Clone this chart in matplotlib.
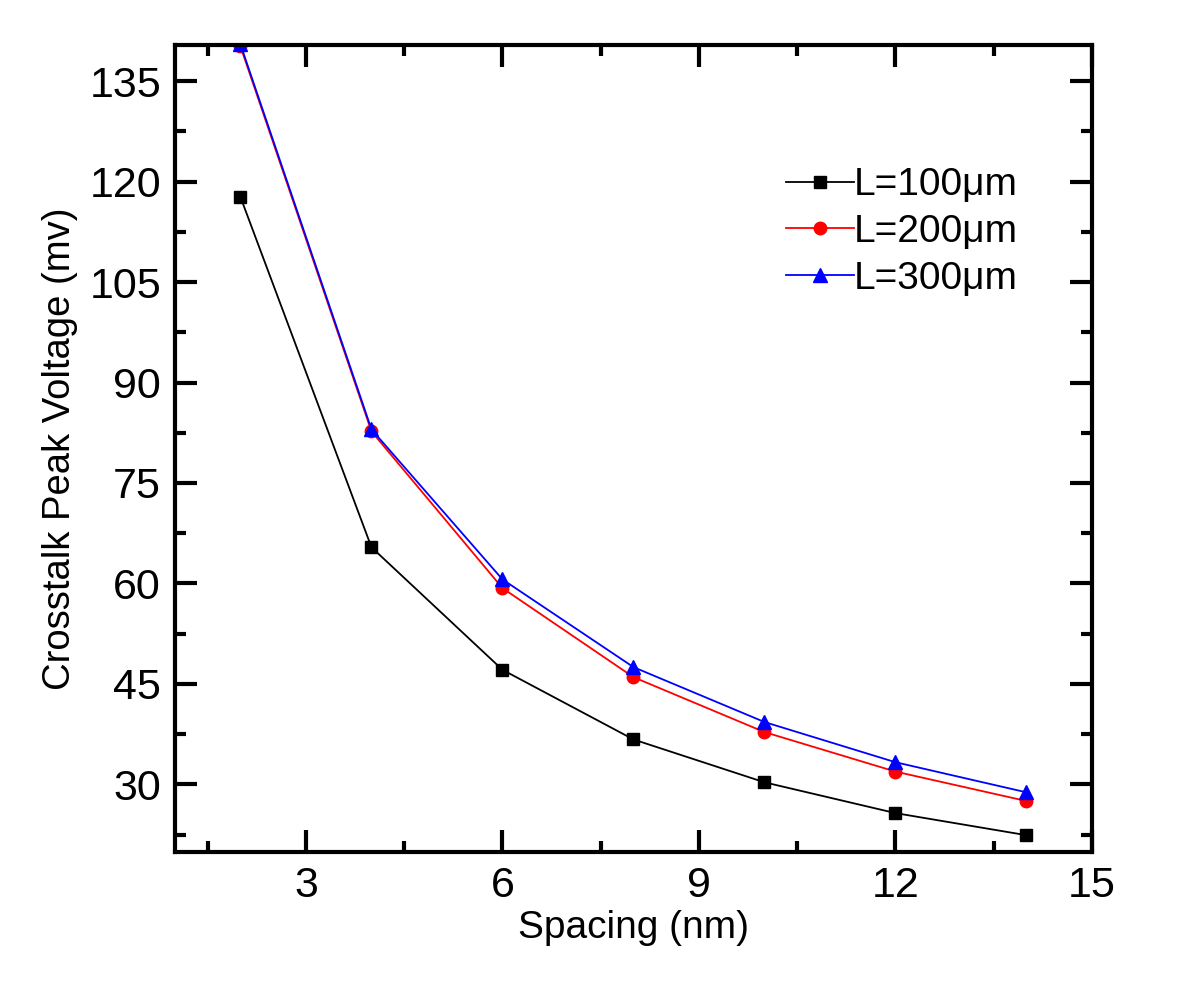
import matplotlib
matplotlib.use("Agg")
import matplotlib.pyplot as plt
from matplotlib.ticker import MultipleLocator

plt.rcParams['font.family'] = ['Liberation Sans', 'DejaVu Sans']

# data
spacing = [2, 4, 6, 8, 10, 12, 14]
v_100 = [117.7, 65.4, 47.1, 36.7, 30.3, 25.7, 22.4]
v_200 = [140.2, 82.7, 59.3, 46.0, 37.8, 31.9, 27.5]
v_300 = [140.5, 83.0, 60.6, 47.5, 39.3, 33.3, 28.8]
labels = ['L=100μm', 'L=200μm', 'L=300μm']

fig = plt.figure(figsize=(12, 10.01), dpi=100)
ax = fig.add_axes([0.1458, 0.1489, 0.7642, 0.8061])

ax.plot(spacing, v_100, color='black', marker='s', markersize=8, lw=1.3, label=labels[0])
ax.plot(spacing, v_200, color='red', marker='o', markersize=9, lw=1.3, label=labels[1])
ax.plot(spacing, v_300, color='blue', marker='^', markersize=10, lw=1.3, label=labels[2])

ax.set_xlim(1, 15)
ax.set_ylim(19.9, 140.4)
ax.xaxis.set_major_locator(MultipleLocator(3))
ax.xaxis.set_minor_locator(MultipleLocator(1.5))
ax.yaxis.set_major_locator(MultipleLocator(15))
ax.yaxis.set_minor_locator(MultipleLocator(7.5))
ax.set_yticks([30, 45, 60, 75, 90, 105, 120, 135])

ax.tick_params(which='both', direction='in', top=True, right=True, width=3)
ax.tick_params(which='major', length=16, labelsize=31, pad=10)
ax.tick_params(which='minor', length=8)
for s in ax.spines.values():
    s.set_linewidth(3)

ax.set_xlabel('Spacing (nm)', fontsize=28, labelpad=3)
ax.set_ylabel('Crosstalk Peak Voltage (mv)', fontsize=27.5, labelpad=8)

ax.legend(loc='upper left', bbox_to_anchor=(0.649, 0.868), frameon=False, fontsize=28,
          handlelength=1.75, handletextpad=0.0, labelspacing=0.28, borderaxespad=0)

fig.savefig('out.png', dpi=100)
